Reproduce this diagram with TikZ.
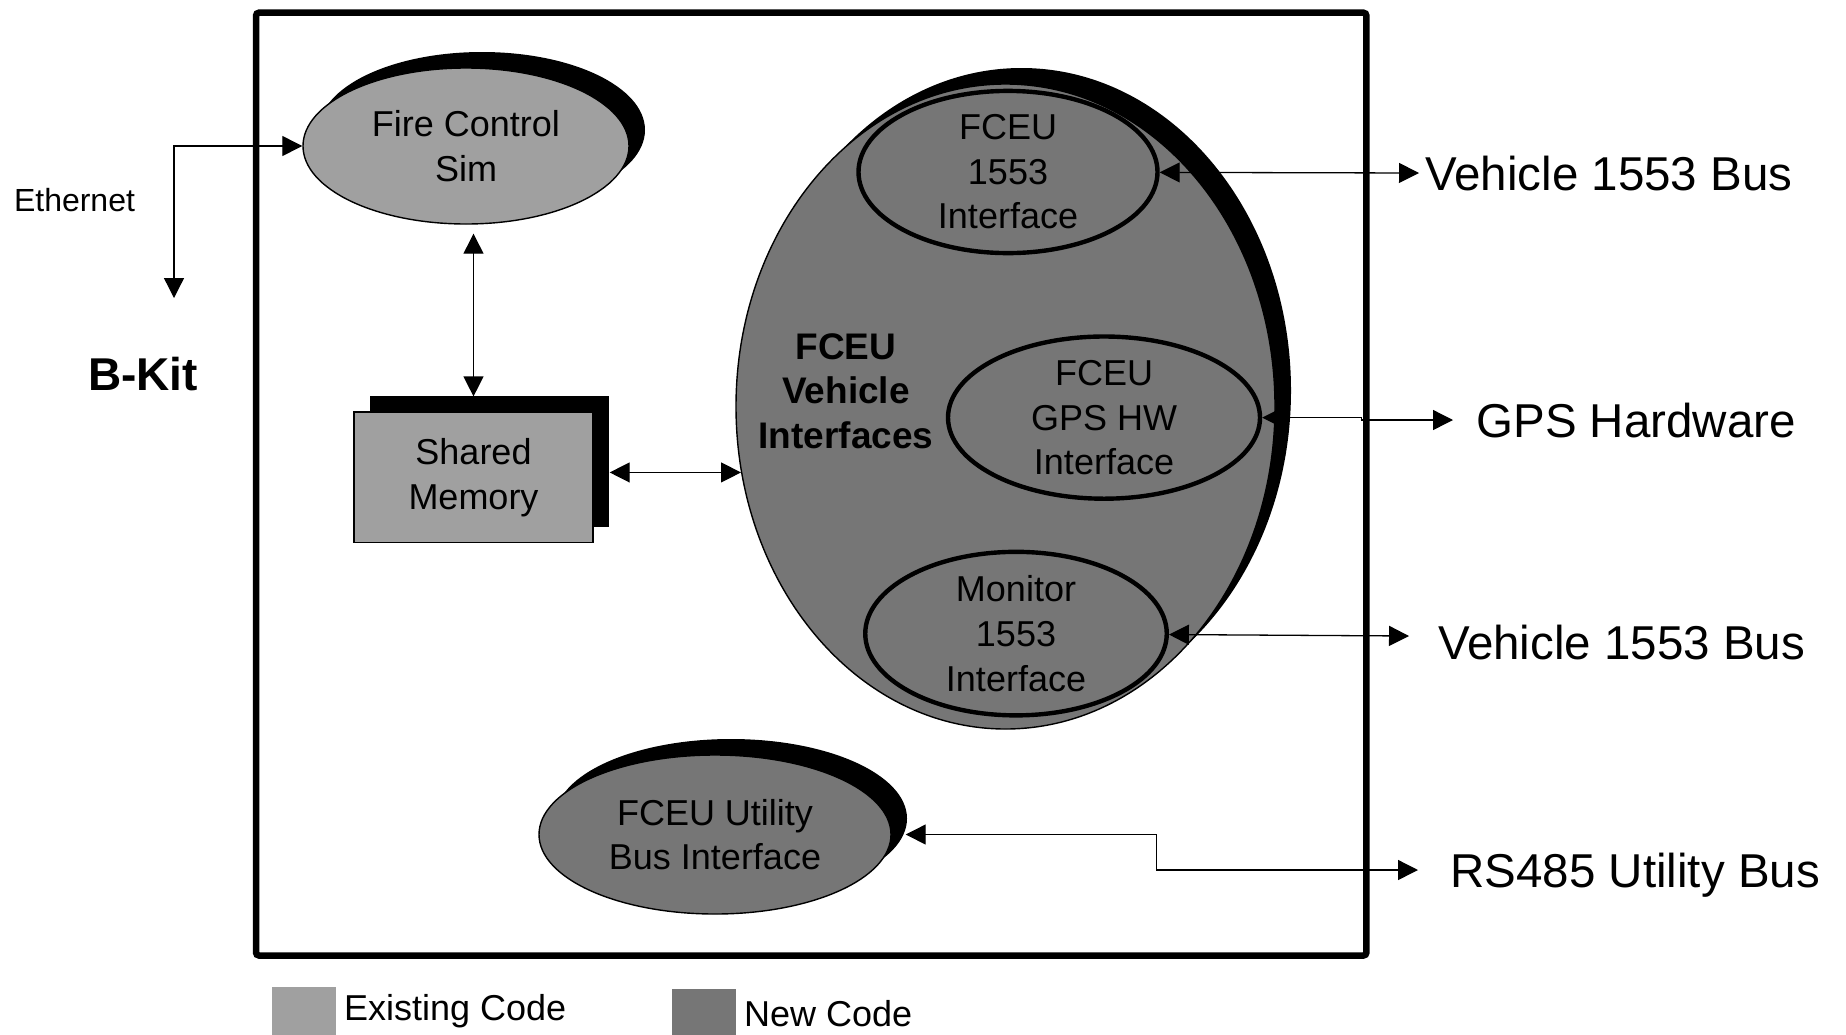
\documentclass[tikz,border=0pt]{standalone}
\usepackage{fontspec}
\setmainfont{Liberation Sans}
\usepackage{tikz}
\usepackage{xcolor}
\usetikzlibrary{shapes, arrows.meta, shadows, positioning}

\definecolor{oldgray}{HTML}{A0A0A0}
\definecolor{newgray}{HTML}{767676}
\newcommand{\fcfont}{\fontsize{18}{22.3}\selectfont}
\newcommand{\busfont}{\fontsize{23.75}{28}\selectfont}

\begin{document}
\begin{tikzpicture}[x=0.5pt, y=-0.5pt,
    >={Triangle[length=10pt, width=10pt]},
    conn/.style={line width=0.65pt},
    shadowed/.style={drop shadow={shadow xshift=8pt, shadow yshift=8pt, fill=black, opacity=1}},
    blob/.style={ellipse, draw, line width=0.7pt, inner sep=0pt, align=center, font=\fcfont},
    iface/.style={ellipse, draw, line width=2.2pt, fill=newgray, inner sep=0pt, align=center, font=\fcfont},
    buslabel/.style={font=\busfont, inner sep=3pt, text height=17pt, text depth=0pt},
    legswatch/.style={minimum width=31.75pt, minimum height=24pt, inner sep=0pt, anchor=north west},
    legtext/.style={font=\fcfont, inner sep=3pt}]
        \useasboundingbox (0,0) rectangle (1846,1034);

        \draw [line width=3.25pt, rounded corners=1.5pt] (256,12.7) rectangle (1366.4,955.5);

        \node [blob, shadowed, fill=oldgray, minimum width=163pt, minimum height=78pt] (firesim) at (466,146) {Fire Control\\Sim};
        \node [draw, line width=0.7pt, fill=oldgray, shadowed, minimum width=119.5pt, minimum height=65.3pt, inner sep=0pt, align=center, font=\fcfont] (shmem) at (473.5,477.4) {Shared\\Memory};

        \node [blob, shadowed, fill=newgray, minimum width=269.5pt, minimum height=322.5pt] (vehif) at (1005.5,406.5) {};
        \node [font=\fontsize{18.5}{22.3}\selectfont\bfseries, align=center] (vehiflabel) at (846,391) {FCEU\\Vehicle\\Interfaces};
        \node [iface, minimum width=149.5pt, minimum height=81pt] (fceu1553) at (1008,172) {FCEU\\1553\\Interface};
        \node [iface, minimum width=156pt, minimum height=81pt] (gpshw) at (1104,417.6) {FCEU\\GPS HW\\Interface};
        \node [iface, minimum width=150.75pt, minimum height=81.5pt] (mon1553) at (1016,633.6) {Monitor\\1553\\Interface};

        \node [blob, shadowed, fill=newgray, minimum width=176pt, minimum height=79.5pt] (util) at (715,834.5) {FCEU Utility\\Bus Interface};

        \node [font=\fontsize{16}{19}\selectfont] (ethlabel) at (74.5,200) {Ethernet};
        \node [font=\fontsize{23}{27}\selectfont\bfseries] (bkit) at (143,374) {B-Kit};

        \coordinate (ethend) at (174,298);
        \draw [conn, <->] (ethend) |- (firesim.west);

        \coordinate (shmemtop) at ([yshift=7.5pt]shmem.north);
        \draw [conn, <->, shorten <=4.5pt] (firesim.south -| shmemtop) -- (shmemtop);
        \coordinate (shmemedge) at ([xshift=8pt]shmem.east);
        \draw [conn, <->] (shmemedge |- vehif.194) -- (vehif.194);

        \coordinate (bus1end) at (1419,173);
        \draw [conn, <->] (fceu1553) -- (bus1end);
        \node [buslabel, right=0pt of bus1end] (bus1) {Vehicle 1553 Bus};

        \coordinate (gpsend) at (1453,420);
        \draw [conn, <->] (gpshw.east) -- ++(99,0) |- (gpsend);
        \node [buslabel, right=8.5pt of gpsend] (gpslabel) {GPS Hardware};

        \coordinate (bus2end) at (1409,636);
        \draw [conn, <->] (mon1553) -- (bus2end);
        \node [buslabel, right=11.3pt of bus2end, yshift=-3.3pt] (bus2) {Vehicle 1553 Bus};

        \coordinate (rsend) at (1418,870);
        \draw [conn, <->] ([xshift=7pt]util.east) -- ++(251,0) |- (rsend);
        \node [buslabel, right=13pt of rsend] (rslabel) {RS485 Utility Bus};

        \node [legswatch, fill=oldgray] (legold) at (272,987) {};
        \node [legtext, right=0.75pt of legold] (legoldtext) {Existing Code};
        \node [legswatch, fill=newgray] (legnew) at (672,989) {};
        \node [legtext, right=0.75pt of legnew] (legnewtext) {New Code};
\end{tikzpicture}
\end{document}
